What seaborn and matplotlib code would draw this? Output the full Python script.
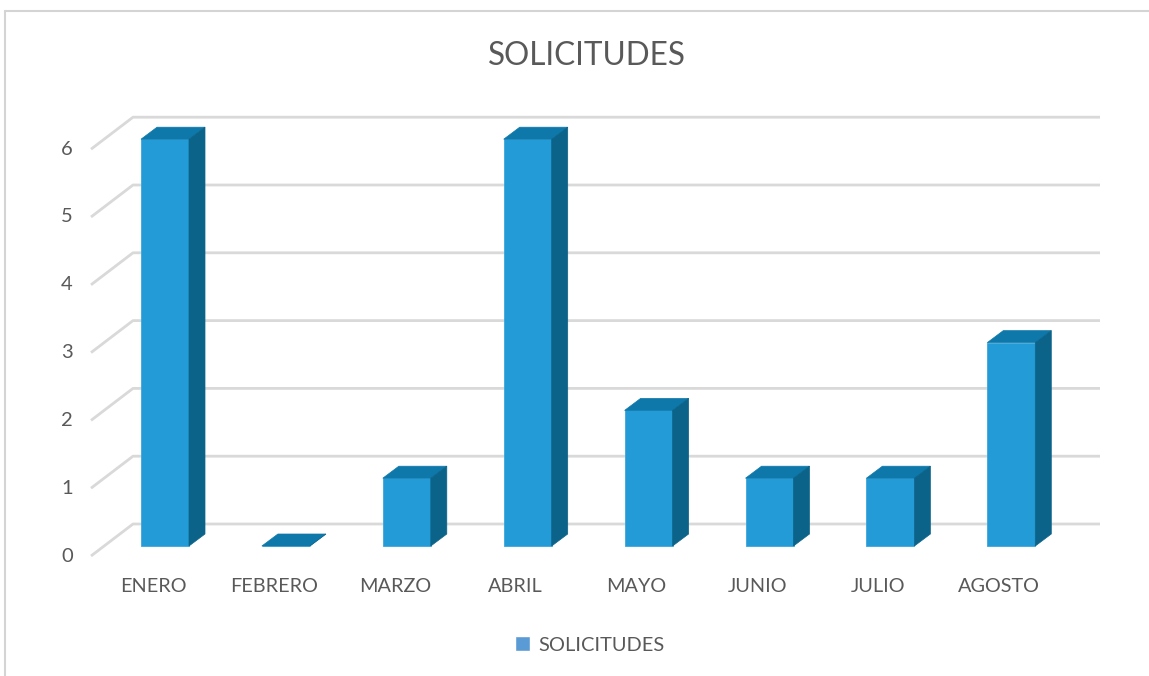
import pandas as pd
import matplotlib
matplotlib.use("Agg")
import matplotlib.pyplot as plt
from matplotlib.patches import Polygon, Patch
from matplotlib.lines import Line2D
import seaborn as sns

meses = ["ENERO", "FEBRERO", "MARZO", "ABRIL", "MAYO", "JUNIO", "JULIO", "AGOSTO"]
solicitudes = [6, 0, 1, 6, 2, 1, 1, 3]
y_ticks = [0, 1, 2, 3, 4, 5, 6]
serie = "SOLICITUDES"

FRONT = "#229bd6"
TOP = "#0e78aa"
SIDE = "#0b6389"
GRID = "#d9d9d9"
TEXT = "#595959"

sns.set_style("white")
plt.rcParams["font.family"] = ["Lato", "DejaVu Sans"]

df = pd.DataFrame({"mes": meses, "n": solicitudes})

W, H = 1149, 676
fig = plt.figure(figsize=(W / 100, H / 100), dpi=100)
ax = fig.add_axes([0, 0, 1, 1])

# pixel geometry of the original (category step / unit height in px)
x0_px, step_px = 165, 120.9
y0_px, unit_px = 546, 67.8
def px_x(p):
    return (p - x0_px) / step_px
def px_y(p):
    return (y0_px - p) / unit_px

sns.barplot(data=df, x="mes", y="n", order=meses, color=FRONT, width=48 / step_px,
            saturation=1, edgecolor="#3aa6dc", linewidth=0.6, ax=ax, zorder=3)

# depth of each bar
ddx, ddy = 16 / step_px, 12 / unit_px
for p in ax.patches:
    bx, bw, bh = p.get_x(), p.get_width(), p.get_height()
    top = [(bx, bh), (bx + bw, bh), (bx + bw + ddx, bh + ddy), (bx + ddx, bh + ddy)]
    side = [(bx + bw, 0), (bx + bw + ddx, ddy), (bx + bw + ddx, bh + ddy), (bx + bw, bh)]
    ax.add_patch(Polygon(top, closed=True, facecolor=TOP, edgecolor=TOP, lw=0.5, zorder=3))
    ax.add_patch(Polygon(side, closed=True, facecolor=SIDE, edgecolor=SIDE, lw=0.5, zorder=3))

# back wall gridlines with the perspective floor edge
back_dy = (y0_px - 524) / unit_px
front_dy = (y0_px - 556) / unit_px
gx_back, gx_end, gx_front = px_x(133), px_x(1100), px_x(91)
for v in y_ticks:
    ax.plot([gx_front, gx_back, gx_end], [v + front_dy, v + back_dy, v + back_dy],
            color=GRID, lw=2, zorder=1, solid_capstyle="butt")
    ax.text(px_x(73), v + front_dy, str(v), ha="right", va="center",
            fontsize=14.5, color=TEXT)

for i, m in enumerate(meses):
    ax.text(i - 12 / step_px, px_y(587), m, ha="center", va="center",
            fontsize=14.3, color=TEXT)

ax.set_xlim(px_x(0), px_x(W))
ax.set_ylim(px_y(H), px_y(0))
ax.axis("off")

fig.text(587 / W, 1 - 56 / H, serie, ha="center", va="center", fontsize=22.7, color=TEXT)

leg = fig.legend(handles=[Patch(facecolor="#5b9bd5", label=serie)], loc="center",
                 bbox_to_anchor=(590 / W, 1 - 645 / H), frameon=False, fontsize=14.4,
                 handlelength=0.75, handleheight=0.75, handletextpad=0.4)
for t in leg.get_texts():
    t.set_color(TEXT)

# chart area border
fig.add_artist(Line2D([5 / W, 1], [1 - 11 / H, 1 - 11 / H], transform=fig.transFigure,
                      color="#d4d4d4", lw=1.5))
fig.add_artist(Line2D([5 / W, 5 / W], [0, 1 - 11 / H], transform=fig.transFigure,
                      color="#d4d4d4", lw=1.5))

fig.savefig("out.png", dpi=100)
